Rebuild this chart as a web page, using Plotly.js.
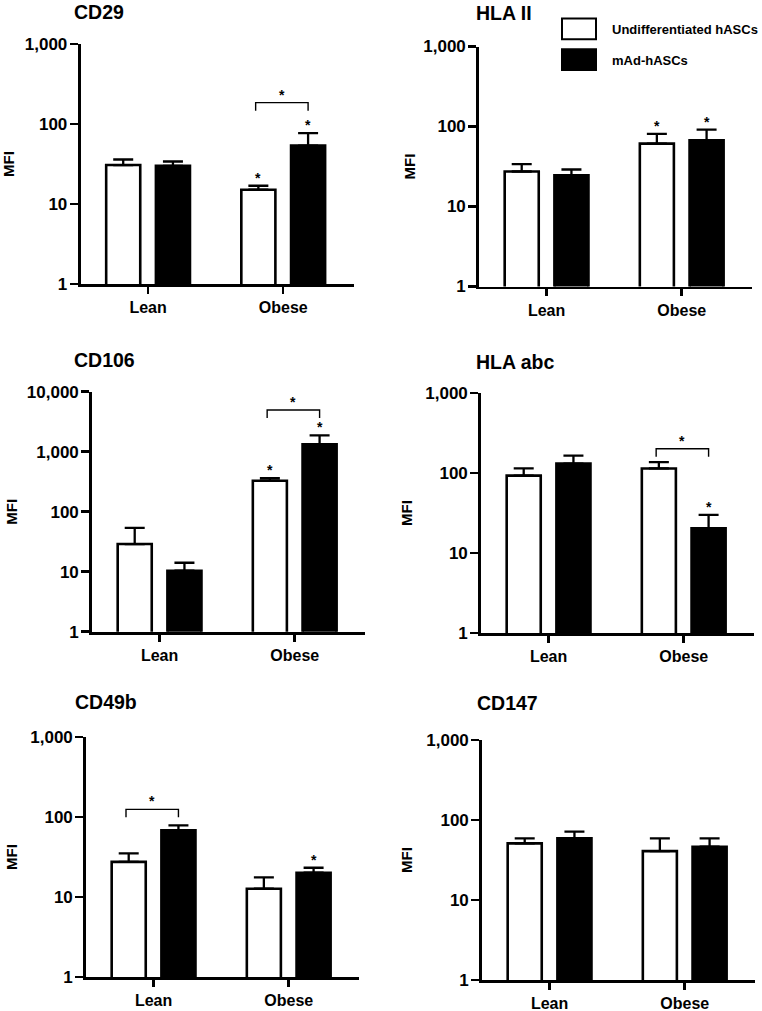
<!DOCTYPE html>
<html><head><meta charset="utf-8">
<script src="https://cdn.plot.ly/plotly-3.0.1.min.js"></script>
<style>html,body{margin:0;padding:0;background:#fff}#chart{width:762px;height:1011px}</style>
</head><body><div id="chart"></div>
<script>
// ---------- data ----------
const categories = ["Lean", "Obese"];
const seriesNames = ["Undifferentiated hASCs", "mAd-hASCs"];
const panelTitles = ["CD29", "HLA II", "CD106", "HLA abc", "CD49b", "CD147"];

const cd29Undiff = [30.7, 15.1];   const cd29UndiffErr = [5.3, 1.8];
const cd29MAd    = [30.0, 53.6];   const cd29MAdErr    = [4.0, 23.4];
const hla2Undiff = [27.4, 61.0];   const hla2UndiffErr = [6.4, 20.0];
const hla2MAd    = [24.6, 67.0];   const hla2MAdErr    = [4.4, 24.5];
const cd106Undiff = [28.9, 328];   const cd106UndiffErr = [25.0, 36];
const cd106MAd    = [10.4, 1325];  const cd106MAdErr    = [3.7, 547];
const hlaAbcUndiff = [92.6, 114];  const hlaAbcUndiffErr = [21.4, 23];
const hlaAbcMAd    = [131, 20.3];  const hlaAbcMAdErr    = [34, 9.7];
const cd49bUndiff = [27.5, 12.7];  const cd49bUndiffErr = [7.5, 4.9];
const cd49bMAd    = [68.0, 20.1];  const cd49bMAdErr    = [10.8, 3.1];
const cd147Undiff = [51.0, 40.8];  const cd147UndiffErr = [7.9, 18.1];
const cd147MAd    = [58.9, 46.3];  const cd147MAdErr    = [12.5, 12.6];

// significance stars above a bar: [category index, series index]
const cd29Stars   = [[1, 0], [1, 1]];
const hla2Stars   = [[1, 0], [1, 1]];
const cd106Stars  = [[1, 0], [1, 1]];
const hlaAbcStars = [[1, 1]];
const cd49bStars  = [[1, 1]];
const cd147Stars  = [];
// brackets between the two bars of a group: [category index, bracket height]
const cd29Brackets   = [[1, 185]];
const hla2Brackets   = [];
const cd106Brackets  = [[1, 4950]];
const hlaAbcBrackets = [[1, 201]];
const cd49bBrackets  = [[0, 124.6]];
const cd147Brackets  = [];

const yTickVals3 = [1, 10, 100, 1000];
const yTickText3 = ["1", "10", "100", "1,000"];
const yTickVals4 = [1, 10, 100, 1000, 10000];
const yTickText4 = ["1", "10", "100", "1,000", "10,000"];
const yAxisLabel = "MFI";

// ---------- layout / style ----------
const W = 762, H = 1011;
const FONT = "Liberation Sans, Arial, Helvetica, sans-serif";
const PLOT_W = 273, PLOT_H = 240;
const BAR_W = 0.252, OFF_U = -0.31, OFF_M = 0.058;
const CEN_U = OFF_U + BAR_W / 2, CEN_M = OFF_M + BAR_W / 2;

const panels = [
  {u: cd29Undiff, ue: cd29UndiffErr, m: cd29MAd, me: cd29MAdErr, stars: cd29Stars, br: cd29Brackets, dec: 3, left: 80.5, top: 44, tx: 72, ty: 12, mx: 9},
  {u: hla2Undiff, ue: hla2UndiffErr, m: hla2MAd, me: hla2MAdErr, stars: hla2Stars, br: hla2Brackets, dec: 3, left: 479, top: 46.5, tx: 474, ty: 13, mx: 409},
  {u: cd106Undiff, ue: cd106UndiffErr, m: cd106MAd, me: cd106MAdErr, stars: cd106Stars, br: cd106Brackets, dec: 4, left: 92, top: 391.7, tx: 72, ty: 360, mx: 12},
  {u: hlaAbcUndiff, ue: hlaAbcUndiffErr, m: hlaAbcMAd, me: hlaAbcMAdErr, stars: hlaAbcStars, br: hlaAbcBrackets, dec: 3, left: 481, top: 393, tx: 474, ty: 362, mx: 406},
  {u: cd49bUndiff, ue: cd49bUndiffErr, m: cd49bMAd, me: cd49bMAdErr, stars: cd49bStars, br: cd49bBrackets, dec: 3, left: 86, top: 737, tx: 73, ty: 702, mx: 11},
  {u: cd147Undiff, ue: cd147UndiffErr, m: cd147MAd, me: cd147MAdErr, stars: cd147Stars, br: cd147Brackets, dec: 3, left: 482, top: 740, tx: 475, ty: 703, mx: 406}
];

const data = [];
const annotations = [];
const shapes = [];
const layout = {
  width: W, height: H, margin: {l: 0, r: 0, t: 0, b: 0},
  paper_bgcolor: "#fff", plot_bgcolor: "rgba(0,0,0,0)",
  showlegend: false, barmode: "overlay",
  font: {family: FONT, color: "#000", weight: "bold"},
  annotations: annotations, shapes: shapes
};

panels.forEach((p, i) => {
  const s = i === 0 ? "" : String(i + 1);
  const xa = "x" + s, ya = "y" + s;
  const errBar = arr => ({type: "data", symmetric: false, array: arr, arrayminus: arr.map(() => 0),
                          color: "#000", thickness: 2.3, width: 10});
  const xs = categories.map((c, k) => k);
  data.push({type: "bar", name: seriesNames[0], x: xs, y: p.u, offset: OFF_U, width: BAR_W,
    marker: {color: "#fff", line: {color: "#000", width: 2.6}}, error_y: errBar(p.ue),
    xaxis: xa, yaxis: ya, hoverinfo: "skip"});
  data.push({type: "bar", name: seriesNames[1], x: xs, y: p.m, offset: OFF_M, width: BAR_W,
    marker: {color: "#000", line: {color: "#000", width: 2.6}}, error_y: errBar(p.me),
    xaxis: xa, yaxis: ya, hoverinfo: "skip"});

  // stars above bars
  p.stars.forEach(([c, sr]) => {
    const top = sr === 0 ? p.u[c] + p.ue[c] : p.m[c] + p.me[c];
    annotations.push({xref: xa, yref: ya, x: c + (sr === 0 ? CEN_U : CEN_M), y: Math.log10(top),
      yshift: 8, text: "*", showarrow: false, yanchor: "middle",
      font: {family: FONT, size: 14, weight: "bold", color: "#000"}});
  });
  // brackets
  const leg = 8 * p.dec / PLOT_H;
  p.br.forEach(([c, yb]) => {
    const lo = Math.pow(10, Math.log10(yb) - leg);
    data.push({type: "scatter", mode: "lines", x: [c + CEN_U - 0.02, c + CEN_U - 0.02, c + CEN_M, c + CEN_M],
      y: [lo, yb, yb, lo], line: {color: "#000", width: 1.4}, xaxis: xa, yaxis: ya,
      hoverinfo: "skip", cliponaxis: false});
    annotations.push({xref: xa, yref: ya, x: c + (CEN_U + CEN_M) / 2 - 0.01, y: Math.log10(yb),
      yshift: 8, text: "*", showarrow: false, yanchor: "middle",
      font: {family: FONT, size: 14, weight: "bold", color: "#000"}});
  });

  layout["xaxis" + s] = {
    domain: [p.left / W, (p.left + PLOT_W) / W], anchor: ya, type: "linear",
    range: [-0.5, 1.52], tickvals: xs, ticktext: categories,
    ticks: "outside", ticklen: 7, tickwidth: 2.5, tickcolor: "#000",
    showline: true, linewidth: 2.8, linecolor: "#000", showgrid: false, zeroline: false,
    tickfont: {family: FONT, size: 16, weight: "bold", color: "#000"}, fixedrange: true
  };
  layout["yaxis" + s] = {
    domain: [1 - (p.top + PLOT_H) / H, 1 - p.top / H], anchor: xa, type: "log",
    range: [0, p.dec], tickvals: p.dec === 4 ? yTickVals4 : yTickVals3,
    ticktext: p.dec === 4 ? yTickText4 : yTickText3,
    ticks: "outside", ticklen: 8, tickwidth: 2.5, tickcolor: "#000", ticklabelstandoff: -1,
    showline: true, linewidth: 2.8, linecolor: "#000", showgrid: false, zeroline: false,
    tickfont: {family: FONT, size: 17, weight: "bold", color: "#000"}, fixedrange: true
  };
  // panel title
  annotations.push({xref: "paper", yref: "paper", x: p.tx / W, y: 1 - p.ty / H, xanchor: "left",
    yanchor: "middle", text: panelTitles[i], showarrow: false,
    font: {family: FONT, size: 19.5, weight: "bold", color: "#000"}});
  // y axis title
  annotations.push({xref: "paper", yref: "paper", x: p.mx / W, y: 1 - (p.top + PLOT_H / 2) / H,
    xanchor: "center", yanchor: "middle", textangle: -90, text: yAxisLabel, showarrow: false,
    font: {family: FONT, size: 15, weight: "bold", color: "#000"}});
});

// legend (drawn in the top-right panel)
shapes.push({type: "rect", xref: "paper", yref: "paper", x0: 562 / W, x1: 596 / W,
  y0: 1 - 39.3 / H, y1: 1 - 18.5 / H, fillcolor: "#fff", line: {color: "#000", width: 2}});
shapes.push({type: "rect", xref: "paper", yref: "paper", x0: 562 / W, x1: 596 / W,
  y0: 1 - 70 / H, y1: 1 - 49.3 / H, fillcolor: "#000", line: {color: "#000", width: 2}});
annotations.push({xref: "paper", yref: "paper", x: 610 / W, y: 1 - 29 / H, xanchor: "left", yanchor: "middle",
  text: seriesNames[0], showarrow: false, font: {family: FONT, size: 13, weight: "bold", color: "#000"}});
annotations.push({xref: "paper", yref: "paper", x: 610 / W, y: 1 - 60 / H, xanchor: "left", yanchor: "middle",
  text: seriesNames[1], showarrow: false, font: {family: FONT, size: 13, weight: "bold", color: "#000"}});

Plotly.newPlot("chart", data, layout, {staticPlot: true, displayModeBar: false});
</script>
</body></html>
